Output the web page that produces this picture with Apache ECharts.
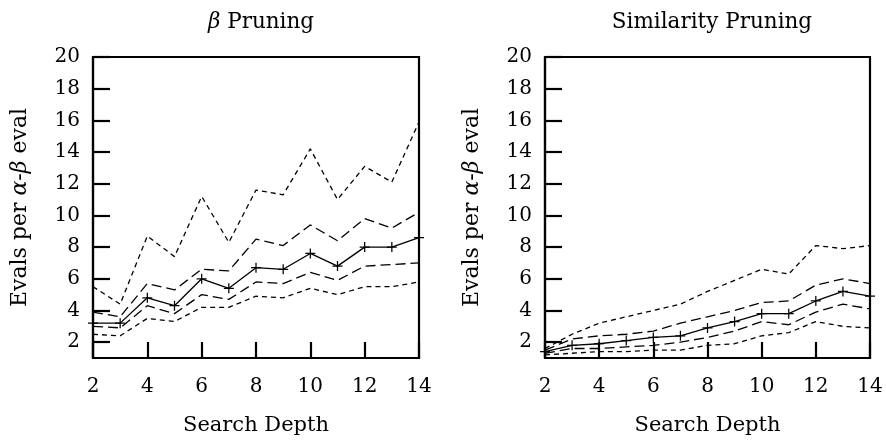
<!DOCTYPE html>
<html>
<head>
<meta charset="utf-8">
<script src="https://cdn.jsdelivr.net/npm/echarts@6/dist/echarts.min.js"></script>
<style>
  html, body { margin: 0; padding: 0; background: #fff; }
  #chart { width: 886px; height: 441px; }
</style>
</head>
<body>
<div id="chart"></div>
<script>
// Search depths on the x axis
const depths = [2, 3, 4, 5, 6, 7, 8, 9, 10, 11, 12, 13, 14];
const xTicks = [2, 4, 6, 8, 10, 12, 14];
const yTicks = [2, 4, 6, 8, 10, 12, 14, 16, 18, 20];

// Beta pruning: max, upper quartile, median, lower quartile, min
const betaMax = [5.5, 4.4, 8.7, 7.4, 11.2, 8.3, 11.6, 11.3, 14.2, 11.0, 13.1, 12.1, 15.9];
const betaQ3  = [3.9, 3.6, 5.7, 5.3, 6.6, 6.5, 8.5, 8.1, 9.4, 8.4, 9.8, 9.2, 10.2];
const betaMed = [3.2, 3.2, 4.8, 4.3, 6.0, 5.4, 6.7, 6.6, 7.6, 6.8, 8.0, 8.0, 8.6];
const betaQ1  = [3.0, 2.9, 4.3, 3.8, 5.0, 4.7, 5.8, 5.7, 6.4, 5.9, 6.8, 6.9, 7.0];
const betaMin = [2.5, 2.4, 3.5, 3.3, 4.2, 4.2, 4.9, 4.8, 5.4, 5.0, 5.5, 5.5, 5.8];

// Similarity pruning: max, upper quartile, median, lower quartile, min
const simMax = [1.6, 2.5, 3.2, 3.6, 4.0, 4.4, 5.2, 5.9, 6.6, 6.3, 8.1, 7.9, 8.1];
const simQ3  = [1.5, 2.2, 2.4, 2.5, 2.7, 3.2, 3.6, 4.0, 4.5, 4.6, 5.6, 6.0, 5.7];
const simMed = [1.4, 1.8, 1.9, 2.1, 2.3, 2.4, 2.9, 3.3, 3.8, 3.8, 4.6, 5.2, 4.9];
const simQ1  = [1.3, 1.6, 1.6, 1.7, 1.8, 2.0, 2.3, 2.7, 3.3, 3.1, 3.9, 4.4, 4.1];
const simMin = [1.2, 1.3, 1.4, 1.4, 1.5, 1.5, 1.8, 1.9, 2.4, 2.6, 3.3, 3.0, 2.9];

const FONT = 'DejaVu Serif';
const FS = 20;
const PLUS = 'path://M-0.75,-6 L0.75,-6 L0.75,-0.75 L6,-0.75 L6,0.75 L0.75,0.75 L0.75,6 L-0.75,6 L-0.75,0.75 L-6,0.75 L-6,-0.75 L-0.75,-0.75 Z';

const pairs = arr => depths.map((d, i) => [d, arr[i]]);

function makeSeries(idx, vals, kind) {
  const s = {
    type: 'line',
    xAxisIndex: idx,
    yAxisIndex: idx,
    data: pairs(vals),
    silent: true,
    animation: false,
    lineStyle: { color: '#000', width: 1.3 },
    symbol: 'none'
  };
  if (kind === 'median') {
    s.symbol = PLUS;
    s.symbolSize = 10;
    s.itemStyle = { color: '#000' };
    s.z = 5;
  } else if (kind === 'quart') {
    s.lineStyle.type = [10, 5];
  } else {
    s.lineStyle.type = [5, 4];
  }
  return s;
}

const axisLineStyle = { lineStyle: { color: '#000', width: 2.2 } };
const labelStyle = { color: '#000', fontFamily: FONT, fontSize: FS };

function xAxis(idx) {
  return {
    type: 'value', gridIndex: idx, min: 2, max: 14, interval: 2,
    name: 'Search Depth', nameLocation: 'middle', nameGap: 57,
    nameTextStyle: { color: '#000', fontFamily: FONT, fontSize: 21 },
    axisLine: axisLineStyle,
    axisTick: { inside: true, length: 16, lineStyle: { color: '#000', width: 2.2 } },
    axisLabel: Object.assign({ margin: 19 }, labelStyle),
    splitLine: { show: false }
  };
}

function yAxis(idx) {
  const NS = 22;
  return {
    type: 'value', gridIndex: idx, min: 1, max: 20,
    name: '{t|Evals per }{i|α}{t|-}{i|β}{t| eval}',
    nameLocation: 'middle', nameGap: 62, nameRotate: 90,
    nameTextStyle: {
      color: '#000', fontFamily: FONT, fontSize: NS,
      rich: {
        t: { fontFamily: FONT, fontSize: NS, color: '#000' },
        i: { fontFamily: FONT, fontSize: NS, color: '#000', fontStyle: 'italic' }
      }
    },
    axisLine: axisLineStyle,
    axisTick: { inside: true, length: 17, customValues: yTicks, lineStyle: { color: '#000', width: 2.2 } },
    axisLabel: Object.assign({ margin: 13, customValues: yTicks }, labelStyle),
    splitLine: { show: false }
  };
}

const gridBase = { top: 57, bottom: 83, show: true, borderColor: '#000', borderWidth: 2.2, containLabel: false, outerBoundsMode: 'none' };
const TS = 21.5;

const option = {
  backgroundColor: '#fff',
  animation: false,
  title: [
    {
      text: '{i|β} Pruning', left: 256, top: 6, textAlign: 'center',
      textStyle: {
        color: '#000', fontFamily: FONT, fontSize: TS, fontWeight: 'normal',
        rich: { i: { fontFamily: FONT, fontSize: TS, fontStyle: 'italic', color: '#000' } }
      }
    },
    {
      text: 'Similarity Pruning', left: 707, top: 6, textAlign: 'center',
      textStyle: { color: '#000', fontFamily: FONT, fontSize: TS, fontWeight: 'normal' }
    }
  ],
  grid: [
    Object.assign({ left: 93, width: 326 }, gridBase),
    Object.assign({ left: 545, width: 325 }, gridBase)
  ],
  xAxis: [xAxis(0), xAxis(1)],
  yAxis: [yAxis(0), yAxis(1)],
  series: [
    makeSeries(0, betaMax, 'ext'),
    makeSeries(0, betaQ3, 'quart'),
    makeSeries(0, betaMed, 'median'),
    makeSeries(0, betaQ1, 'quart'),
    makeSeries(0, betaMin, 'ext'),
    makeSeries(1, simMax, 'ext'),
    makeSeries(1, simQ3, 'quart'),
    makeSeries(1, simMed, 'median'),
    makeSeries(1, simQ1, 'quart'),
    makeSeries(1, simMin, 'ext')
  ]
};

const chart = echarts.init(document.getElementById('chart'), null, { renderer: 'canvas' });
chart.setOption(option);
</script>
</body>
</html>
